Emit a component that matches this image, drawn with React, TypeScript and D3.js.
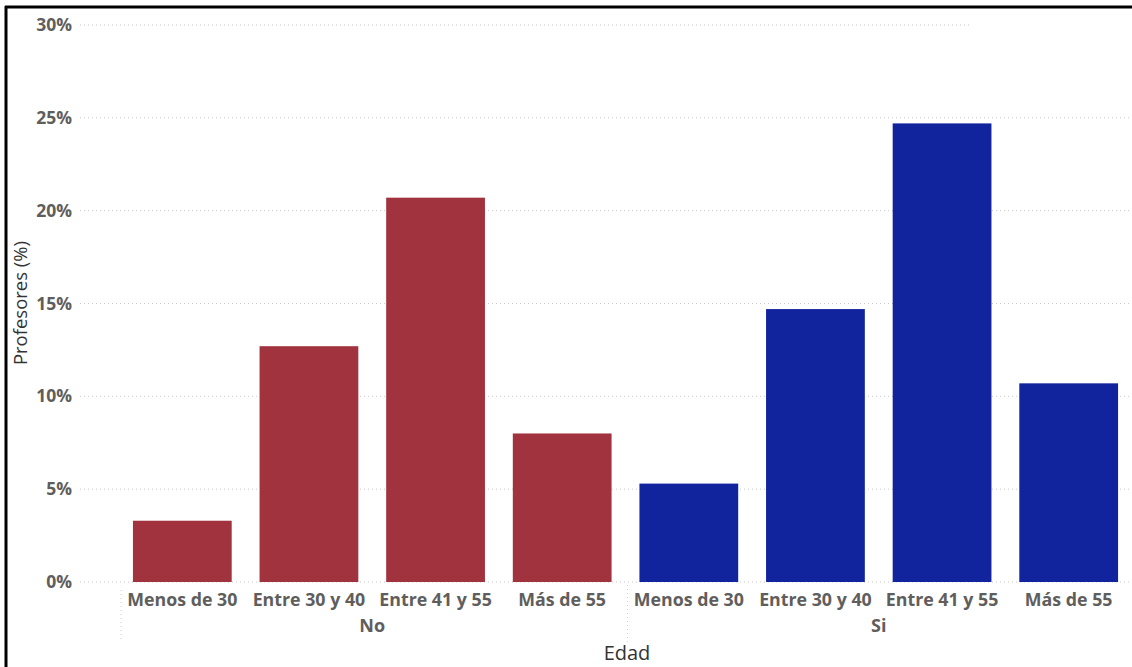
import React from "react";
import * as d3 from "d3";

const groups = ["No", "Si"];
const ageCategories = ["Menos de 30", "Entre 30 y 40", "Entre 41 y 55", "Más de 55"];
const valuesNo = [3.3, 12.7, 20.7, 8.0];
const valuesSi = [5.3, 14.7, 24.7, 10.7];
const yTicks = [0, 5, 10, 15, 20, 25, 30];
const groupColors = ["#A0333E", "#12239E"];

const W = 1132;
const H = 667;

export default function App() {
  const rows = groups.flatMap((g, gi) =>
    ageCategories.map((c, ci) => ({
      key: g + "|" + c,
      group: g,
      gi,
      cat: c,
      value: gi === 0 ? valuesNo[ci] : valuesSi[ci],
    }))
  );
  const x = d3
    .scaleBand<string>()
    .domain(rows.map((r) => r.key))
    .range([119, 1132])
    .paddingInner(0.22)
    .paddingOuter(0.11);
  const y = d3.scaleLinear().domain([0, 30]).range([582, 25]);
  const step = x.step();
  const groupStart = (gi: number) => 119 + gi * step * ageCategories.length;
  const font = "'Open Sans', 'Segoe UI', sans-serif";

  return (
    <svg
      width={W}
      height={H}
      style={{ position: "absolute", left: 0, top: 0, background: "#fff", display: "block" }}
    >
      <rect x={0} y={0} width={W} height={H} fill="#fff" />
      {yTicks.map((t) => (
        <g key={t}>
          <line
            x1={80}
            x2={t === 30 ? 972 : W}
            y1={y(t)}
            y2={y(t)}
            stroke="#C8C8C8"
            strokeWidth={1}
            strokeDasharray="1 3"
          />
          <text
            x={72}
            y={y(t)}
            dy="0.35em"
            textAnchor="end"
            fontFamily={font}
            fontWeight={700}
            fontSize={17.5}
            fill="#605E5C"
          >
            {t}%
          </text>
        </g>
      ))}
      {rows.map((r) => (
        <rect
          key={r.key}
          x={x(r.key)}
          y={y(r.value)}
          width={x.bandwidth()}
          height={y(0) - y(r.value)}
          fill={groupColors[r.gi]}
        />
      ))}
      {rows.map((r) => (
        <text
          key={"l" + r.key}
          x={(x(r.key) as number) + x.bandwidth() / 2}
          y={600}
          dy="0.35em"
          textAnchor="middle"
          fontFamily={font}
          fontWeight={700}
          fontSize={17.8}
          fill="#605E5C"
        >
          {r.cat}
        </text>
      ))}
      {[0, 1].map((gi) => (
        <line
          key={"sep" + gi}
          x1={groupStart(gi) + 2}
          x2={groupStart(gi) + 2}
          y1={gi === 0 ? 590 : 585}
          y2={642}
          stroke="#D0D0D0"
          strokeDasharray="1 3"
        />
      ))}
      {groups.map((g, gi) => (
        <text
          key={"g" + g}
          x={groupStart(gi) + (step * ageCategories.length) / 2}
          y={626}
          dy="0.35em"
          textAnchor="middle"
          fontFamily={font}
          fontWeight={700}
          fontSize={18}
          fill="#605E5C"
        >
          {g}
        </text>
      ))}
      <text
        x={627}
        y={653}
        dy="0.35em"
        textAnchor="middle"
        fontFamily={font}
        fontSize={20}
        fill="#333"
      >
        Edad
      </text>
      <text
        transform={`translate(21,${303}) rotate(-90)`}
        dy="0.35em"
        textAnchor="middle"
        fontFamily={font}
        fontSize={18.5}
        fill="#333"
      >
        Profesores (%)
      </text>
      <line x1={5} x2={W} y1={7} y2={7} stroke="#000" strokeWidth={3} />
      <line x1={6} x2={6} y1={6} y2={H} stroke="#000" strokeWidth={3} />
    </svg>
  );
}
